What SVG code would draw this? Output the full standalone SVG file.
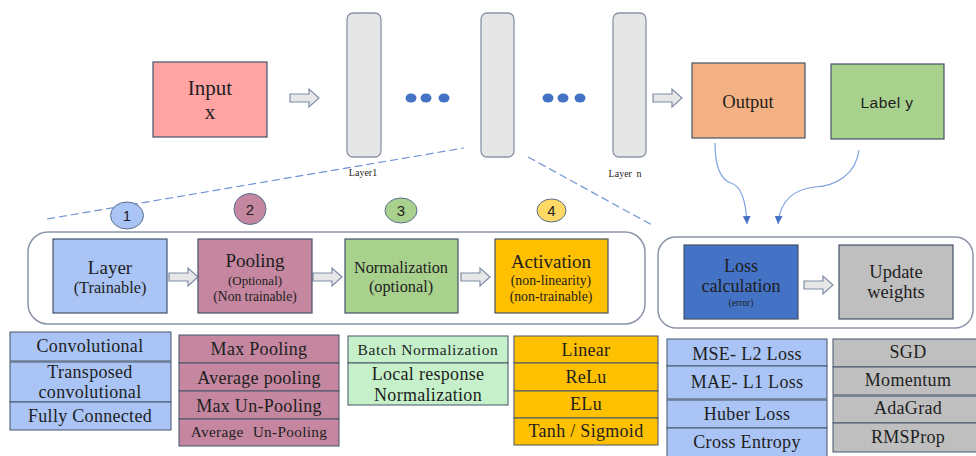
<svg xmlns="http://www.w3.org/2000/svg" width="976" height="456" viewBox="0 0 976 456">
  <style>
    .t { fill: #1e1e1e; text-anchor: middle; font-family: "Liberation Serif", serif; }
    .s { fill: #1e1e1e; text-anchor: middle; font-family: "Liberation Sans", sans-serif; }
    .li { letter-spacing: 0.3px; }
    .box { stroke: #44546A; stroke-width: 1.2; }
    .bar { fill: #E6E6E6; stroke: #8A94A6; stroke-width: 1.3; }
    .cont { fill: none; stroke: #8A94A6; stroke-width: 1.5; }
    .blk { fill: #E7E7E7; stroke: #7F8DA6; stroke-width: 1.2; }
    .dash { fill: none; stroke: #6F94D6; stroke-width: 1.2; stroke-dasharray: 8 4; }
    .curve { fill: none; stroke: #7A9EE0; stroke-width: 1.2; }
    .cell { stroke: #44546A; stroke-width: 1; }
    .dot { fill: #4472C4; }
  </style>
  <defs>
    <marker id="tri" viewBox="0 0 10 10" refX="10" refY="5" markerWidth="8" markerHeight="8" orient="auto" markerUnits="userSpaceOnUse">
      <path d="M0,0 L10,5 L0,10 Z" fill="#4472C4"/>
    </marker>
  </defs>

  <rect width="976" height="456" fill="#FFFFFF"/>

  <!-- connectors: block arrows, dashed zoom lines, curved loss inputs -->
  <g id="connectors">
    <path class="blk" d="M290,94 H309 V89 L319,98 L309,107 V102 H290 Z"/>
    <path class="blk" d="M653,94 H672 V89 L682,98 L672,107 V102 H653 Z"/>
    <path class="blk" d="M169,273 H188 V268 L198,277 L188,286 V281 H169 Z"/>
    <path class="blk" d="M313,273 H332 V268 L342,277 L332,286 V281 H313 Z"/>
    <path class="blk" d="M461,273 H480 V268 L490,277 L480,286 V281 H461 Z"/>
    <path class="blk" d="M804,281 H823 V276 L833,285 L823,294 V289 H804 Z"/>
    <line class="dash" x1="47" y1="219" x2="464" y2="148"/>
    <line class="dash" x1="528" y1="157" x2="652" y2="225"/>
    <path class="curve" d="M715,143 C715,168 722,180 731,183 C741,186 746,200 747,224" marker-end="url(#tri)"/>
    <path class="curve" d="M859,150 C856,175 835,186 815,187 C795,189 780,200 778,224" marker-end="url(#tri)"/>
  </g>

  <!-- top row -->
  <g id="input">
    <rect class="box" x="153" y="62" width="114" height="75" fill="#FFA3A3"/>
    <text class="t" x="210" y="95" font-size="21" font-family="Liberation Serif">Input</text>
    <text class="t" x="210" y="119" font-size="21" font-family="Liberation Serif">x</text>
  </g>
  <g id="layer1">
    <rect class="bar" x="347" y="13" width="34" height="144" rx="6"/>
    <text class="t" x="363" y="176" font-size="10" font-family="Liberation Serif">Layer1</text>
  </g>
  <g id="dots1">
    <ellipse class="dot" cx="411" cy="98" rx="5.5" ry="4.5"/>
    <ellipse class="dot" cx="426" cy="98" rx="5.5" ry="4.5"/>
    <ellipse class="dot" cx="444" cy="98" rx="5.5" ry="4.5"/>
  </g>
  <g id="layerMid">
    <rect class="bar" x="481" y="13" width="33" height="144" rx="6"/>
  </g>
  <g id="dots2">
    <ellipse class="dot" cx="548" cy="98" rx="5.5" ry="4.5"/>
    <ellipse class="dot" cx="563" cy="98" rx="5.5" ry="4.5"/>
    <ellipse class="dot" cx="580" cy="98" rx="5.5" ry="4.5"/>
  </g>
  <g id="layerN">
    <rect class="bar" x="613" y="13" width="33" height="144" rx="6"/>
    <text class="t" x="625" y="177" font-size="10" font-family="Liberation Serif" word-spacing="2">Layer n</text>
  </g>
  <g id="output">
    <rect class="box" x="692" y="63" width="113" height="75" fill="#F4B183"/>
    <text class="t" x="748" y="108" font-size="18.5" font-family="Liberation Serif">Output</text>
  </g>
  <g id="label">
    <rect class="box" x="831" y="64" width="113" height="75" fill="#A9D18E"/>
    <text class="s" x="887" y="108" font-size="15.5" font-family="Liberation Sans" letter-spacing="0.4">Label y</text>
  </g>

  <!-- step numbers -->
  <g id="step1">
    <ellipse cx="127" cy="215.5" rx="16.5" ry="13.5" fill="#A9C4F5" stroke="#5A6F8F"/>
    <text class="s" x="127" y="221" font-size="15" font-family="Liberation Sans">1</text>
  </g>
  <g id="step2">
    <ellipse cx="250" cy="209" rx="16" ry="15.5" fill="#C4879F" stroke="#5A6F8F"/>
    <text class="s" x="250" y="215" font-size="15" font-family="Liberation Sans">2</text>
  </g>
  <g id="step3">
    <ellipse cx="401" cy="210.5" rx="16" ry="12.5" fill="#A9D18E" stroke="#5A6F8F"/>
    <text class="s" x="401" y="216" font-size="15" font-family="Liberation Sans">3</text>
  </g>
  <g id="step4">
    <ellipse cx="551.5" cy="210.5" rx="14.5" ry="11.5" fill="#FFD966" stroke="#5A6F8F"/>
    <text class="s" x="551.5" y="216" font-size="15" font-family="Liberation Sans">4</text>
  </g>

  <!-- layer pipeline -->
  <g id="pipeline">
    <rect class="cont" x="28" y="232" width="617" height="92" rx="20"/>
  </g>
  <g id="layerBox">
    <rect class="box" x="53" y="239" width="114" height="74" fill="#A9C4F5"/>
    <text class="t" x="110" y="274" font-size="19" font-family="Liberation Serif">Layer</text>
    <text class="t" x="110" y="293" font-size="16.3" font-family="Liberation Serif">(Trainable)</text>
  </g>
  <g id="poolingBox">
    <rect class="box" x="198" y="239" width="114" height="74" fill="#C4879F"/>
    <text class="t" x="255" y="267" font-size="19" font-family="Liberation Serif">Pooling</text>
    <text class="t" x="255" y="285" font-size="13" font-family="Liberation Serif">(Optional)</text>
    <text class="t" x="255" y="301" font-size="13.6" font-family="Liberation Serif">(Non trainable)</text>
  </g>
  <g id="normBox">
    <rect class="box" x="345" y="239" width="113" height="74" fill="#A9D18E"/>
    <text class="t" x="401" y="273" font-size="16.3" font-family="Liberation Serif">Normalization</text>
    <text class="t" x="401" y="292" font-size="16.3" font-family="Liberation Serif">(optional)</text>
  </g>
  <g id="activationBox">
    <rect class="box" x="495" y="239" width="113" height="74" fill="#FFC000"/>
    <text class="t" x="551" y="268" font-size="19" font-family="Liberation Serif">Activation</text>
    <text class="t" x="551" y="285" font-size="13.8" font-family="Liberation Serif">(non-linearity)</text>
    <text class="t" x="551" y="301" font-size="13.8" font-family="Liberation Serif">(non-trainable)</text>
  </g>

  <!-- training block -->
  <g id="training">
    <rect class="cont" x="658" y="237" width="315" height="91" rx="18"/>
  </g>
  <g id="lossBox">
    <rect class="box" x="684" y="245" width="114" height="74" fill="#4472C4"/>
    <text class="t" x="741" y="272" font-size="18" font-family="Liberation Serif">Loss</text>
    <text class="t" x="741" y="292" font-size="18" font-family="Liberation Serif">calculation</text>
    <text class="t" x="741" y="306" font-size="9.5" font-family="Liberation Serif">(error)</text>
  </g>
  <g id="updateBox">
    <rect class="box" x="839" y="245" width="114" height="74" fill="#BFBFBF"/>
    <text class="t" x="896" y="278" font-size="18.5" font-family="Liberation Serif">Update</text>
    <text class="t" x="896" y="298" font-size="18.5" font-family="Liberation Serif">weights</text>
  </g>

  <!-- option lists -->
  <g id="layerTypes">
    <rect class="cell" x="10" y="332" width="161" height="29" fill="#A9C4F5"/>
    <rect class="cell" x="10" y="362" width="161" height="40" fill="#A9C4F5"/>
    <rect class="cell" x="10" y="402" width="161" height="28" fill="#A9C4F5"/>
    <text class="t li" x="90" y="352" font-size="18" font-family="Liberation Serif">Convolutional</text>
    <text class="t li" x="90" y="378" font-size="18" font-family="Liberation Serif">Transposed</text>
    <text class="t li" x="90" y="398" font-size="18" font-family="Liberation Serif">convolutional</text>
    <text class="t li" x="90" y="422" font-size="18" font-family="Liberation Serif">Fully Connected</text>
  </g>
  <g id="poolingTypes">
    <rect class="cell" x="179" y="335" width="160" height="28" fill="#C4879F"/>
    <rect class="cell" x="179" y="363" width="160" height="28" fill="#C4879F"/>
    <rect class="cell" x="179" y="391" width="160" height="28" fill="#C4879F"/>
    <rect class="cell" x="179" y="419" width="160" height="27" fill="#C4879F"/>
    <text class="t li" x="259" y="355" font-size="18" font-family="Liberation Serif">Max Pooling</text>
    <text class="t li" x="259" y="384" font-size="18" font-family="Liberation Serif">Average pooling</text>
    <text class="t li" x="259" y="412" font-size="18" font-family="Liberation Serif">Max Un-Pooling</text>
    <text class="t li" x="259" y="437" font-size="15.3" font-family="Liberation Serif" word-spacing="5">Average Un-Pooling</text>
  </g>
  <g id="normTypes">
    <rect class="cell" x="348" y="336" width="160" height="27" fill="#C5F0C9"/>
    <rect class="cell" x="348" y="363" width="160" height="42" fill="#C5F0C9"/>
    <text class="t" x="428" y="355" font-size="15.5" font-family="Liberation Serif" letter-spacing="0.6">Batch Normalization</text>
    <text class="t li" x="428" y="380" font-size="18" font-family="Liberation Serif">Local response</text>
    <text class="t li" x="428" y="401" font-size="18" font-family="Liberation Serif">Normalization</text>
  </g>
  <g id="activationTypes">
    <rect class="cell" x="514" y="336" width="144" height="27" fill="#FFC000"/>
    <rect class="cell" x="514" y="363" width="144" height="28" fill="#FFC000"/>
    <rect class="cell" x="514" y="391" width="144" height="27" fill="#FFC000"/>
    <rect class="cell" x="514" y="418" width="144" height="27" fill="#FFC000"/>
    <text class="t li" x="586" y="356" font-size="18" font-family="Liberation Serif">Linear</text>
    <text class="t li" x="586" y="383" font-size="18" font-family="Liberation Serif">ReLu</text>
    <text class="t li" x="586" y="410" font-size="18" font-family="Liberation Serif">ELu</text>
    <text class="t li" x="586" y="437" font-size="18" font-family="Liberation Serif">Tanh / Sigmoid</text>
  </g>
  <g id="lossTypes">
    <rect class="cell" x="667" y="339" width="160" height="27" fill="#A9C4F5"/>
    <rect class="cell" x="667" y="366" width="160" height="33" fill="#A9C4F5"/>
    <rect class="cell" x="667" y="400" width="160" height="28" fill="#A9C4F5"/>
    <rect class="cell" x="667" y="428" width="160" height="32" fill="#A9C4F5"/>
    <text class="t li" x="747" y="360" font-size="18" font-family="Liberation Serif">MSE- L2 Loss</text>
    <text class="t li" x="747" y="388" font-size="18" font-family="Liberation Serif">MAE- L1 Loss</text>
    <text class="t li" x="747" y="420" font-size="18" font-family="Liberation Serif">Huber Loss</text>
    <text class="t li" x="747" y="448" font-size="18" font-family="Liberation Serif">Cross Entropy</text>
  </g>
  <g id="optimizers">
    <rect class="cell" x="833" y="339" width="145" height="28" fill="#BFBFBF"/>
    <rect class="cell" x="833" y="367" width="145" height="28" fill="#BFBFBF"/>
    <rect class="cell" x="833" y="396" width="145" height="27" fill="#BFBFBF"/>
    <rect class="cell" x="833" y="423" width="145" height="29" fill="#BFBFBF"/>
    <text class="t li" x="908" y="358" font-size="18" font-family="Liberation Serif">SGD</text>
    <text class="t li" x="908" y="386" font-size="18" font-family="Liberation Serif">Momentum</text>
    <text class="t li" x="908" y="414" font-size="18" font-family="Liberation Serif">AdaGrad</text>
    <text class="t li" x="908" y="443" font-size="18" font-family="Liberation Serif">RMSProp</text>
  </g>
</svg>
